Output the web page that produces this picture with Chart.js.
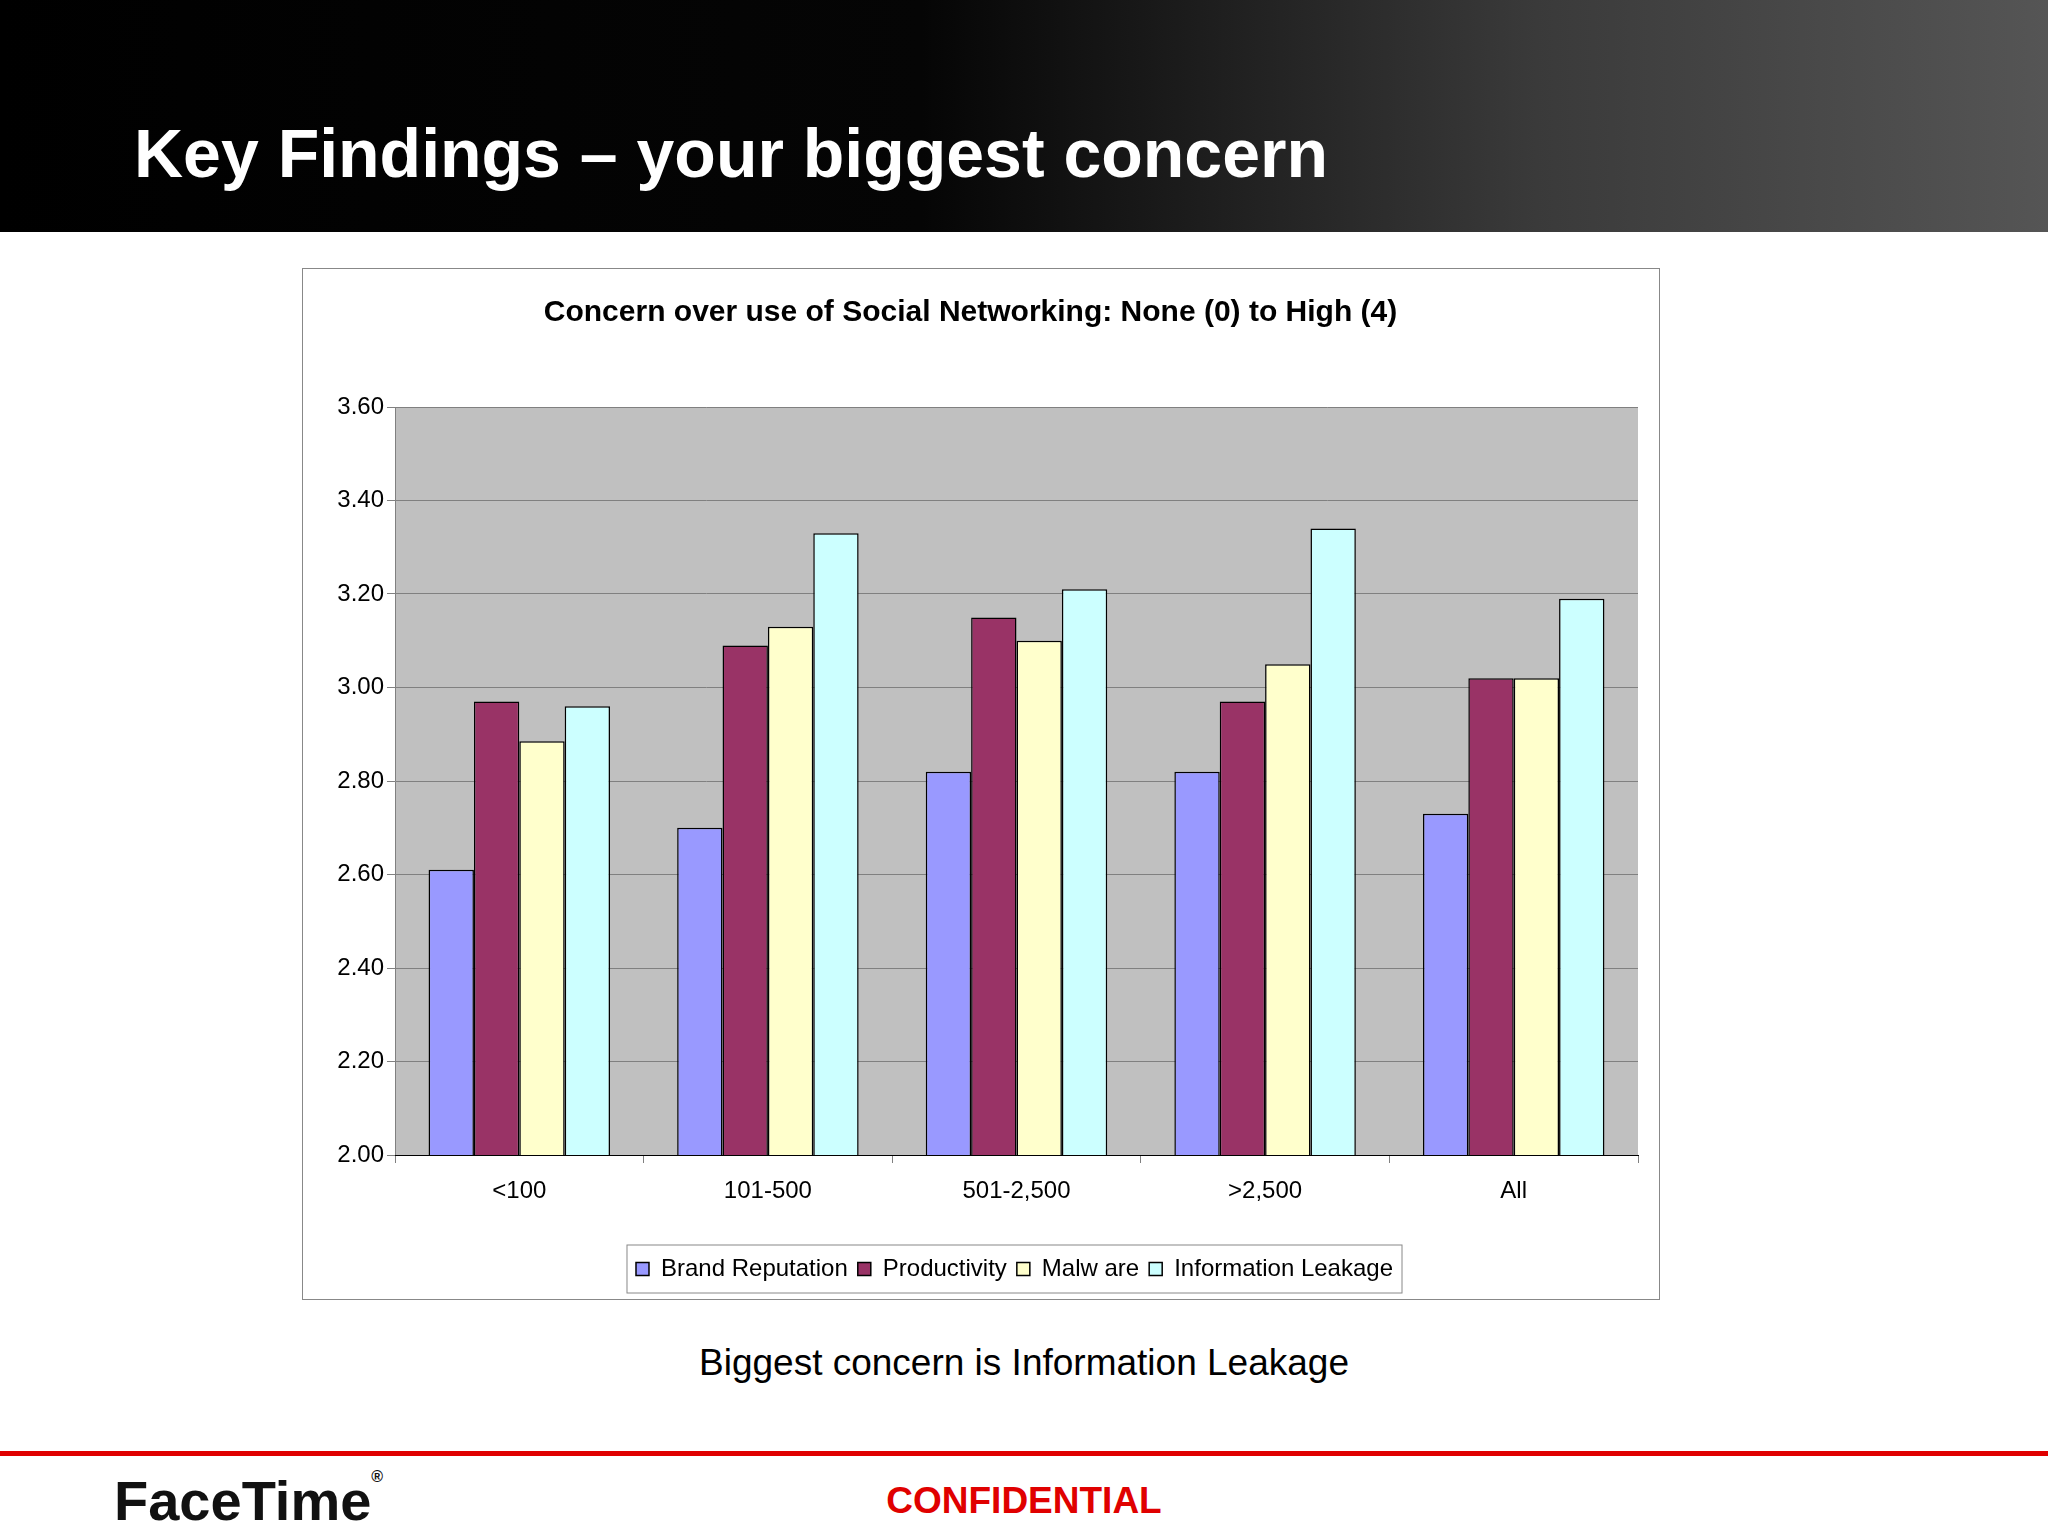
<!DOCTYPE html>
<html>
<head>
<meta charset="utf-8">
<script src="https://cdn.jsdelivr.net/npm/chart.js@4"></script>
<style>
	body { margin: 0; width: 2048px; height: 1536px; background: #fff; position: relative; overflow: hidden; font-family: "Liberation Sans", Arial, sans-serif; }
	#header { position: absolute; left: 0; top: 0; width: 2048px; height: 232px; background: linear-gradient(90deg, #000 0%, #050505 45%, #3a3a3a 75%, #555 100%); }
	#title { position: absolute; left: 134px; top: 114px; color: #fff; font-size: 68px; font-weight: bold; }
	#box { position: absolute; left: 302px; top: 268px; width: 1356px; height: 1030px; border: 1px solid #888; }
	#caption { position: absolute; left: 0; width: 2048px; top: 1342px; text-align: center; font-size: 37px; color: #000; }
	#rule { position: absolute; left: 0; top: 1451px; width: 2048px; height: 5px; background: #e00000; }
	#logo { position: absolute; left: 114px; top: 1468px; font-size: 56px; font-weight: bold; color: #111; }
	#conf { position: absolute; left: 0; width: 2048px; top: 1480px; text-align: center; font-size: 37px; font-weight: bold; color: #e00000; }
</style>
</head>
<body>
<div id="header"></div>
<div id="title">Key Findings – your biggest concern</div>
<div id="box"><canvas id="chart" width="1356" height="1030"></canvas></div>
<div id="caption">Biggest concern is Information Leakage</div>
<div id="rule"></div>
<div id="logo">FaceTime<span style="font-size:16px;vertical-align:top">®</span></div>
<div id="conf">CONFIDENTIAL</div>
<script>
var categories = ["<100", "101-500", "501-2,500", ">2,500", "All"];
var brandReputation = [2.61, 2.70, 2.82, 2.82, 2.73];
var productivity = [2.97, 3.09, 3.15, 2.97, 3.02];
var malware = [2.885, 3.13, 3.10, 3.05, 3.02];
var informationLeakage = [2.96, 3.33, 3.21, 3.34, 3.19];
var seriesNames = ["Brand Reputation", "Productivity", "Malw are", "Information Leakage"];
var seriesColors = ["#9999ff", "#993366", "#ffffcc", "#ccffff"];

var legendShift = 44;

// Gray plot area and the box around the legend
var decor = {
	id: "decor",
	beforeDraw: function(chart) {
		var a = chart.chartArea, ctx = chart.ctx;
		ctx.save();
		ctx.fillStyle = "#c0c0c0";
		ctx.fillRect(a.left, a.top, a.right - a.left, a.bottom - a.top);
		ctx.restore();
	},
	afterDraw: function(chart) {
		var hb = chart.legend.legendHitBoxes, ctx = chart.ctx;
		if (!hb || !hb.length) return;
		var last = hb[hb.length - 1];
		var x0 = hb[0].left - 9 + legendShift, x1 = last.left + last.width + 9 + legendShift;
		var y0 = hb[0].top - 12, y1 = hb[0].top + hb[0].height + 12;
		ctx.save();
		ctx.strokeStyle = "#888";
		ctx.lineWidth = 1;
		ctx.strokeRect(x0, y0, x1 - x0, y1 - y0);
		ctx.restore();
	}
};

var data = [brandReputation, productivity, malware, informationLeakage];
var chart = new Chart(document.getElementById("chart"), {
	type: "bar",
	data: {
		labels: categories,
		datasets: data.map(function(values, i) {
			return {
				label: seriesNames[i],
				data: values,
				backgroundColor: seriesColors[i],
				borderColor: "#000",
				borderWidth: 1.5,
				borderSkipped: "bottom"
			};
		})
	},
	options: {
		responsive: false,
		animation: false,
		categoryPercentage: 0.73,
		barPercentage: 1,
		layout: { padding: { left: 0, right: 21, top: 0, bottom: 8 } },
		plugins: {
			title: {
				display: true,
				text: "Concern over use of Social Networking: None (0) to High (4)",
				color: "#000",
				font: { family: "Liberation Sans", size: 30, weight: "bold" },
				padding: { top: 26, bottom: 76 }
			},
			legend: {
				position: "bottom",
				labels: {
					color: "#000",
					font: { family: "Liberation Sans", size: 24 },
					boxWidth: 13, boxHeight: 13,
					padding: 10
				}
			},
			tooltip: { enabled: false }
		},
		scales: {
			y: {
				min: 2, max: 3.6,
				ticks: { stepSize: 0.2, color: "#000", font: { family: "Liberation Sans", size: 24 },
					callback: function(v) { return v.toFixed(2); } },
				grid: { color: "#808080", lineWidth: 1, tickLength: 8 },
				border: { color: "#808080" },
				afterFit: function(s) { s.width = 92; }
			},
			x: {
				ticks: { color: "#000", font: { family: "Liberation Sans", size: 24 }, padding: 14 },
				grid: { display: true, drawOnChartArea: false, offset: true, color: "#808080", tickLength: 8 },
				border: { color: "#000" },
				afterFit: function(s) { s.height = 92; }
			}
		}
	},
	plugins: [decor]
});

// shift the legend so it centres under the plot area
var origDraw = chart.legend.draw;
chart.legend.draw = function() {
	this.ctx.save();
	this.ctx.translate(legendShift, 0);
	origDraw.apply(this, arguments);
	this.ctx.restore();
};
chart.draw();
</script>
</body>
</html>
